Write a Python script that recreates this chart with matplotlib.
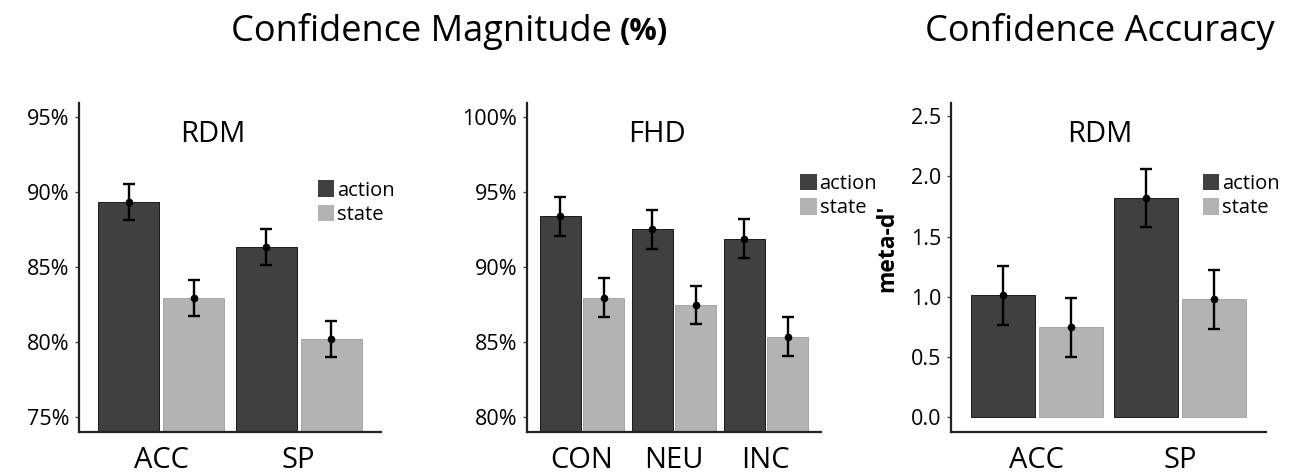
import matplotlib
matplotlib.use("Agg")
import matplotlib.pyplot as plt
import numpy as np
from matplotlib.patches import Patch

plt.rcParams["font.family"] = ["Open Sans", "DejaVu Sans"]

ACTION_COLOR = "#404040"
STATE_COLOR = "#b3b3b3"

# Confidence magnitude, RDM task (%)
rdm_groups = ["ACC", "SP"]
rdm_action = [89.3, 86.3]
rdm_action_err = [1.2, 1.2]
rdm_state = [82.9, 80.2]
rdm_state_err = [1.2, 1.2]

# Confidence magnitude, FHD task (%)
fhd_groups = ["CON", "NEU", "INC"]
fhd_action = [93.35, 92.5, 91.85]
fhd_action_err = [1.3, 1.3, 1.3]
fhd_state = [87.95, 87.45, 85.35]
fhd_state_err = [1.3, 1.25, 1.3]

# Confidence accuracy (meta-d'), RDM task
acc_groups = ["ACC", "SP"]
acc_action = [1.01, 1.82]
acc_action_err = [0.245, 0.24]
acc_state = [0.745, 0.98]
acc_state_err = [0.245, 0.245]

rdm_yticks = [75, 80, 85, 90, 95]
fhd_yticks = [80, 85, 90, 95, 100]
acc_yticks = [0.0, 0.5, 1.0, 1.5, 2.0, 2.5]


def draw_panel(ax, groups, action, action_err, state, state_err, title, title_x,
               ylim, yticks, yfmt, legend_anchor, bar_base=None):
    x = np.arange(1, len(groups) + 1)
    width = 0.445
    off = 0.237
    ybase = ylim[0] if bar_base is None else bar_base
    series = ((x - off, action, action_err, ACTION_COLOR, "#1a1a1a"),
              (x + off, state, state_err, STATE_COLOR, "#a6a6a6"))
    for xs, vals, errs, color, edge in series:
        vals = np.asarray(vals)
        ax.bar(xs, vals - ybase, width, bottom=ybase, color=color,
               edgecolor=edge, linewidth=0.7, zorder=2)
        ax.errorbar(xs, vals, yerr=errs, fmt="o", color="black", ms=4.5,
                    elinewidth=1.7, capsize=4, capthick=1.7, zorder=3)

    ax.set_xlim(0.4, len(groups) + 0.6)
    ax.set_ylim(*ylim)
    ax.set_xticks(x)
    ax.set_xticklabels(groups, fontsize=21)
    ax.set_yticks(yticks)
    ax.set_yticklabels([yfmt(v) for v in yticks], fontsize=15.5)
    ax.tick_params(axis="y", length=3, width=1, color="#444444", pad=4)
    ax.tick_params(axis="x", length=0, pad=10)
    for side in ("top", "right"):
        ax.spines[side].set_visible(False)
    for side in ("left", "bottom"):
        ax.spines[side].set_linewidth(1.6)
        ax.spines[side].set_color("#222222")

    ax.text(title_x, 0.903, title, transform=ax.transAxes, ha="center",
            va="center", fontsize=21)

    handles = [Patch(facecolor=ACTION_COLOR, edgecolor="none", label="action"),
               Patch(facecolor=STATE_COLOR, edgecolor="none", label="state")]
    ax.legend(handles=handles, loc="upper left", bbox_to_anchor=legend_anchor,
              frameon=False, fontsize=14.5, handlelength=0.8, handleheight=0.9,
              handletextpad=0.15, labelspacing=0.2, borderpad=0, borderaxespad=0)


fig = plt.figure(figsize=(12.98, 4.76), dpi=100)

ax1 = fig.add_axes([79 / 1298, 44 / 476, 302 / 1298, 329 / 476])
ax2 = fig.add_axes([527 / 1298, 44 / 476, 294 / 1298, 329 / 476])
ax3 = fig.add_axes([951 / 1298, 44 / 476, 315 / 1298, 329 / 476])

pct = lambda v: f"{v:.0f}%"
draw_panel(ax1, rdm_groups, rdm_action, rdm_action_err, rdm_state, rdm_state_err,
           "RDM", 0.444, (74, 95.9), rdm_yticks, pct, (0.79, 0.765))
draw_panel(ax2, fhd_groups, fhd_action, fhd_action_err, fhd_state, fhd_state_err,
           "FHD", 0.442, (79, 100.9), fhd_yticks, pct, (0.93, 0.785))
draw_panel(ax3, acc_groups, acc_action, acc_action_err, acc_state, acc_state_err,
           "RDM", 0.473, (-0.125, 2.61), acc_yticks, lambda v: f"{v:.1f}", (0.80, 0.785),
           bar_base=0.0)
ax3.set_ylabel("meta-d'", fontsize=16.5, fontweight="bold")
ax3.yaxis.set_label_coords(-0.163, 0.56)

fig.text(612 / 1298, 1 - 32 / 476, "Confidence Magnitude", ha="right", va="center",
         fontsize=26)
fig.text(620 / 1298, 1 - 32 / 476, "(%)", ha="left", va="center", fontsize=22,
         fontweight="bold")
fig.text(1100 / 1298, 1 - 32 / 476, "Confidence Accuracy", ha="center", va="center",
         fontsize=26)

fig.savefig("out.png", dpi=100, facecolor="white")
